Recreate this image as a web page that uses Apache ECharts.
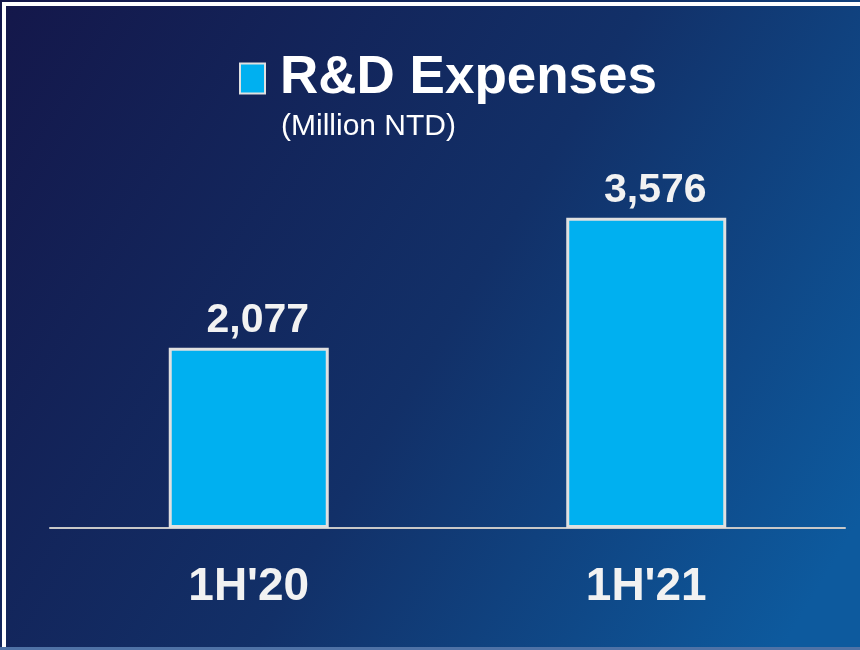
<!DOCTYPE html>
<html>
<head>
<meta charset="utf-8">
<script src="https://cdn.jsdelivr.net/npm/echarts@6/dist/echarts.min.js"></script>
<style>
  html, body { margin: 0; padding: 0; }
  #chart { width: 860px; height: 650px; }
</style>
</head>
<body>
<div id="chart"></div>
<script>
// 数据
const categories = ["1H'20", "1H'21"];
const rdExpenses = [2077, 3576];
const seriesName = 'R&D Expenses';
const unitText = '(Million NTD)';

const chart = echarts.init(document.getElementById('chart'));

chart.setOption({
  backgroundColor: {
    type: 'linear', x: 0, y: 0, x2: 1, y2: 0.8,
    colorStops: [
      { offset: 0, color: '#14174a' },
      { offset: 0.55, color: '#123068' },
      { offset: 1, color: '#0d5a9e' }
    ]
  },
  animation: false,
  legend: {
    left: 234,
    top: 47,
    itemWidth: 25,
    itemHeight: 30,
    icon: 'rect',
    data: [seriesName],
    textStyle: {
      color: '#ffffff',
      fontFamily: 'Liberation Sans',
      fontWeight: 'bold',
      fontSize: 53,
      padding: [0, 0, 0, 10]
    }
  },
  graphic: [
    {
      type: 'rect',
      shape: { x: 4, y: 4, width: 880, height: 660 },
      style: { fill: 'none', stroke: '#ffffff', lineWidth: 4 },
      silent: true
    },
    {
      type: 'rect',
      shape: { x: 0, y: 647, width: 860, height: 3 },
      style: { fill: '#4f72a6' },
      silent: true
    },
    {
      type: 'text',
      left: 281,
      top: 112,
      style: {
        text: unitText,
        fill: '#ffffff',
        fontFamily: 'Liberation Sans',
        fontSize: 30
      }
    }
  ],
  grid: {
    left: 50,
    right: 15,
    top: 181,
    bottom: 122
  },
  xAxis: {
    type: 'category',
    data: categories,
    axisLine: { lineStyle: { color: '#c8c8c8', width: 2 } },
    axisTick: { show: false },
    axisLabel: {
      margin: 36,
      color: '#f2f2f2',
      fontFamily: 'Liberation Sans',
      fontWeight: 'bold',
      fontSize: 46
    }
  },
  yAxis: {
    type: 'value',
    min: 0,
    max: 4000,
    show: false,
    splitLine: { show: false }
  },
  series: [
    {
      name: seriesName,
      type: 'bar',
      data: rdExpenses,
      barWidth: 160,
      itemStyle: {
        color: '#00b0f0',
        borderColor: '#e0e0e0',
        borderWidth: 3
      },
      label: {
        show: true,
        position: 'top',
        distance: 7,
        offset: [9, 0],
        color: '#f2f2f2',
        fontFamily: 'Liberation Sans',
        fontWeight: 'bold',
        fontSize: 41,
        formatter: p => p.value.toLocaleString('en-US')
      }
    }
  ]
});
</script>
</body>
</html>
